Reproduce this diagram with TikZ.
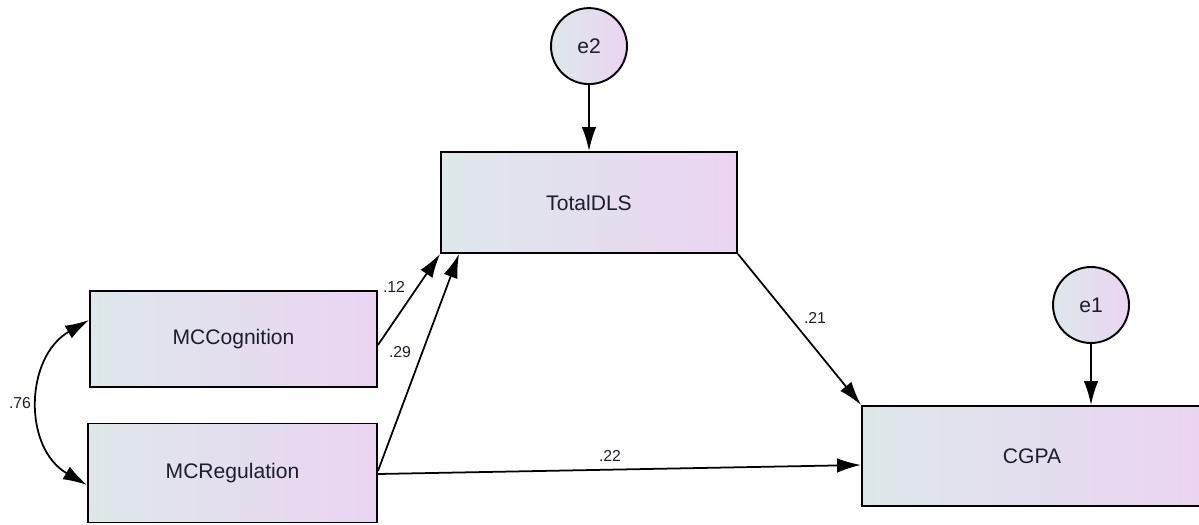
\documentclass[tikz,border=0pt]{standalone}
\usepackage{fontspec}
\setmainfont{Liberation Sans}
\usetikzlibrary{positioning,arrows.meta}

\definecolor{boxleft}{RGB}{221,232,234}
\definecolor{boxright}{RGB}{235,212,242}
\definecolor{inktext}{RGB}{28,30,48}

\begin{document}
\begin{tikzpicture}[
  x=0.02cm, y=-0.02cm,
  node distance = 1.3cm and 1.5cm,
  observed node/.style={
    draw,
    line width=1.1pt,
    left color=boxleft,
    right color=boxright,
    text=inktext,
    inner sep=0pt,
    font=\fontsize{12}{14}\selectfont,
  },
  error node/.style={
    observed node,
    circle,
    minimum size=1.52cm,
  },
  path arrow/.style={
    draw,
    line width=1pt,
    -{Latex[length=4.8mm,width=2.9mm]},
  },
  coef/.style={
    text=inktext,
    inner sep=0pt,
    font=\fontsize{9}{10}\selectfont,
  },
  ]
  \useasboundingbox (0,0) rectangle (1199,524);

  \node[observed node,minimum width=5.74cm,minimum height=1.92cm] (cog)
  at (233.5,339) {MCCognition};
  \node[observed node,minimum width=5.78cm,minimum height=1.98cm] (reg)
  at (232.5,473) {MCRegulation};
  \node[observed node,minimum width=5.92cm,minimum height=2.02cm] (dls)
  at (589,202.5) {TotalDLS};
  \node[observed node,minimum width=6.8cm,minimum height=2cm] (cgpa)
  at (1032,456) {CGPA};

  \node[error node,above=1.32cm of dls] (e2) {e2};
  \node[error node] (e1) at (1091,305) {e1};

  % regression paths
  \path[path arrow] (e2) -- (dls);
  \path[path arrow] (e1) -- (e1 |- cgpa.north);
  \path[path arrow] ([yshift=-0.12cm]cog.east) -- (dls.south west);
  \path[path arrow] ([yshift=0.04cm]reg.east) -- ([xshift=0.38cm]dls.south west);
  \path[path arrow] (dls.south east) -- (cgpa.north west);
  \path[path arrow] ([yshift=-0.02cm]reg.east) -- ([yshift=-0.18cm]cgpa.west);

  % covariance
  \path[path arrow,{Latex[length=4.8mm,width=2.9mm]}-{Latex[length=4.8mm,width=2.9mm]}]
  ([yshift=0.38cm]cog.west) to[out=210,in=150,looseness=1.15] ([yshift=-0.24cm]reg.west);

  \node[coef] (c12) at (394,287) {.12};
  \node[coef] (c29) at (400,352) {.29};
  \node[coef] (c21) at (815,318) {.21};
  \node[coef] (c22) at (610,456) {.22};
  \node[coef] (c76) at (20,403) {.76};
\end{tikzpicture}
\end{document}
